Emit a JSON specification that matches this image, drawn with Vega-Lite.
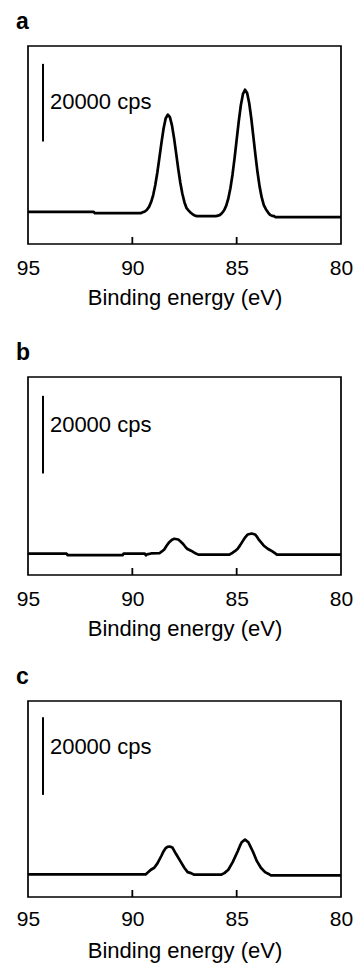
{
  "$schema": "https://vega.github.io/schema/vega-lite/v6.json",
  "padding": {"left": 15, "top": 10, "right": 4, "bottom": 2},
  "background": "white",
  "config": {
    "font": "Liberation Sans",
    "view": {"stroke": "black", "strokeWidth": 1.7},
    "title": {"anchor": "start", "fontSize": 23, "fontWeight": "bold", "dx": -12, "offset": 12, "color": "black", "frame": "group"}
  },
  "datasets": {
    "a": [
      {"E": 95, "cps": 8280}, {"E": 91.85, "cps": 8280}, {"E": 91.8, "cps": 7950}, {"E": 89.6, "cps": 7950},
      {"E": 89.5, "cps": 8160}, {"E": 89.4, "cps": 8380}, {"E": 89.3, "cps": 8820}, {"E": 89.2, "cps": 9560},
      {"E": 89.1, "cps": 10810}, {"E": 89.0, "cps": 12600}, {"E": 88.9, "cps": 15200}, {"E": 88.8, "cps": 18480},
      {"E": 88.7, "cps": 22300}, {"E": 88.6, "cps": 26250}, {"E": 88.5, "cps": 29800}, {"E": 88.4, "cps": 32400},
      {"E": 88.3, "cps": 33300}, {"E": 88.2, "cps": 32660}, {"E": 88.1, "cps": 30550}, {"E": 88.0, "cps": 27260},
      {"E": 87.9, "cps": 23340}, {"E": 87.8, "cps": 19350}, {"E": 87.7, "cps": 15790}, {"E": 87.6, "cps": 12870},
      {"E": 87.5, "cps": 10710}, {"E": 87.4, "cps": 9220}, {"E": 87.3, "cps": 8600}, {"E": 87.2, "cps": 8050},
      {"E": 87.1, "cps": 7650}, {"E": 87.0, "cps": 7300}, {"E": 86.9, "cps": 7180}, {"E": 86.0, "cps": 7180},
      {"E": 85.9, "cps": 7300}, {"E": 85.8, "cps": 7500}, {"E": 85.7, "cps": 7985}, {"E": 85.6, "cps": 8700},
      {"E": 85.5, "cps": 9890}, {"E": 85.4, "cps": 11720}, {"E": 85.3, "cps": 14350}, {"E": 85.2, "cps": 17850},
      {"E": 85.1, "cps": 22110}, {"E": 85.0, "cps": 26860}, {"E": 84.9, "cps": 31600}, {"E": 84.8, "cps": 35740},
      {"E": 84.7, "cps": 38600}, {"E": 84.6, "cps": 39740}, {"E": 84.5, "cps": 38920}, {"E": 84.4, "cps": 36330},
      {"E": 84.3, "cps": 32390}, {"E": 84.2, "cps": 27680}, {"E": 84.1, "cps": 22870}, {"E": 84.0, "cps": 18470},
      {"E": 83.9, "cps": 14780}, {"E": 83.8, "cps": 12000}, {"E": 83.7, "cps": 9990}, {"E": 83.6, "cps": 8980},
      {"E": 83.5, "cps": 8170}, {"E": 83.4, "cps": 7500}, {"E": 83.3, "cps": 7250}, {"E": 83.2, "cps": 7180},
      {"E": 83.15, "cps": 6920}, {"E": 80, "cps": 6920}
    ],
    "b": [
      {"E": 95, "cps": 5490}, {"E": 93.15, "cps": 5490}, {"E": 93.1, "cps": 5130}, {"E": 90.46, "cps": 5130},
      {"E": 90.42, "cps": 5490}, {"E": 89.4, "cps": 5490}, {"E": 89.35, "cps": 5080}, {"E": 89.3, "cps": 5300},
      {"E": 89.1, "cps": 5550}, {"E": 88.7, "cps": 5600}, {"E": 88.6, "cps": 6000}, {"E": 88.47, "cps": 6590},
      {"E": 88.35, "cps": 7600}, {"E": 88.23, "cps": 8460}, {"E": 88.1, "cps": 9100}, {"E": 87.99, "cps": 9330},
      {"E": 87.8, "cps": 9150}, {"E": 87.7, "cps": 8700}, {"E": 87.59, "cps": 8130}, {"E": 87.48, "cps": 7400},
      {"E": 87.38, "cps": 6770}, {"E": 87.19, "cps": 6260}, {"E": 87.03, "cps": 5740}, {"E": 86.84, "cps": 5250},
      {"E": 85.35, "cps": 5250}, {"E": 85.19, "cps": 5740}, {"E": 85.07, "cps": 6200}, {"E": 84.95, "cps": 6770},
      {"E": 84.83, "cps": 7700}, {"E": 84.71, "cps": 8720}, {"E": 84.59, "cps": 9700}, {"E": 84.47, "cps": 10440},
      {"E": 84.28, "cps": 10690}, {"E": 84.12, "cps": 10440}, {"E": 84.02, "cps": 9800}, {"E": 83.92, "cps": 8970},
      {"E": 83.81, "cps": 8250}, {"E": 83.71, "cps": 7610}, {"E": 83.51, "cps": 6770}, {"E": 83.27, "cps": 6000},
      {"E": 83.07, "cps": 5250}, {"E": 80, "cps": 5250}
    ],
    "c": [
      {"E": 95, "cps": 5850}, {"E": 89.35, "cps": 5850}, {"E": 89.2, "cps": 6600}, {"E": 89.11, "cps": 7020},
      {"E": 88.95, "cps": 7540}, {"E": 88.79, "cps": 8720}, {"E": 88.6, "cps": 10690}, {"E": 88.5, "cps": 11800},
      {"E": 88.39, "cps": 12670}, {"E": 88.3, "cps": 12950}, {"E": 88.23, "cps": 13000}, {"E": 88.15, "cps": 12900},
      {"E": 88.07, "cps": 12670}, {"E": 87.91, "cps": 11130}, {"E": 87.7, "cps": 9230}, {"E": 87.51, "cps": 7540},
      {"E": 87.35, "cps": 6410}, {"E": 87.19, "cps": 6150}, {"E": 87.03, "cps": 5740}, {"E": 85.75, "cps": 5740},
      {"E": 85.59, "cps": 6150}, {"E": 85.4, "cps": 7020}, {"E": 85.19, "cps": 8970}, {"E": 84.95, "cps": 11790},
      {"E": 84.85, "cps": 13100}, {"E": 84.76, "cps": 14100}, {"E": 84.6, "cps": 14790}, {"E": 84.44, "cps": 14100},
      {"E": 84.35, "cps": 13100}, {"E": 84.23, "cps": 11790}, {"E": 84.03, "cps": 9230}, {"E": 83.84, "cps": 7540},
      {"E": 83.64, "cps": 6410}, {"E": 83.49, "cps": 6000}, {"E": 83.36, "cps": 5560}, {"E": 80, "cps": 5560}
    ],
    "ticks": [{"E": 90, "t1": 0, "t2": 1800}, {"E": 85, "t1": 0, "t2": 1800}],
    "ann_a": [{"bx": 94.28, "y1": 26400, "y2": 46400, "tx": 93.95, "ty": 36700, "label": "20000 cps"}],
    "ann_b": [{"bx": 94.28, "y1": 26150, "y2": 46150, "tx": 93.95, "ty": 38600, "label": "20000 cps"}],
    "ann_c": [{"bx": 94.28, "y1": 26300, "y2": 46300, "tx": 93.95, "ty": 38600, "label": "20000 cps"}]
  },
  "spacing": 25,
  "vconcat": [
    {
      "spacing": 32,
      "vconcat": [
        {
          "title": "a",
          "width": 313, "height": 198,
          "layer": [
            {
              "data": {"name": "a"},
              "mark": {"type": "line", "color": "black", "strokeWidth": 2.7, "strokeJoin": "round"},
              "encoding": {
                "x": {"field": "E", "type": "quantitative", "scale": {"domain": [80, 95], "reverse": true, "nice": false, "zero": false},
                  "axis": {"values": [95, 90, 85, 80], "title": "Binding energy (eV)", "domain": false, "grid": false, "ticks": false, "labelFontSize": 21, "labelColor": "black", "labelPadding": 13, "labelFlush": false, "labelOverlap": false, "titleFontSize": 22, "titleFontWeight": "normal", "titleColor": "black", "titlePadding": 9}},
                "y": {"field": "cps", "type": "quantitative", "scale": {"domain": [0, 51000], "nice": false}, "axis": null}
              }
            },
            {
              "data": {"name": "ticks"},
              "mark": {"type": "rule", "color": "black", "strokeWidth": 1.8},
              "encoding": {"x": {"field": "E", "type": "quantitative"}, "y": {"field": "t1", "type": "quantitative"}, "y2": {"field": "t2"}}
            },
            {
              "data": {"name": "ann_a"},
              "mark": {"type": "rule", "color": "black", "strokeWidth": 2},
              "encoding": {"x": {"field": "bx", "type": "quantitative"}, "y": {"field": "y1", "type": "quantitative"}, "y2": {"field": "y2"}}
            },
            {
              "data": {"name": "ann_a"},
              "mark": {"type": "text", "align": "left", "baseline": "middle", "fontSize": 22, "color": "black"},
              "encoding": {"x": {"field": "tx", "type": "quantitative"}, "y": {"field": "ty", "type": "quantitative"}, "text": {"field": "label"}}
            }
          ]
        },
        {
          "title": "b",
          "width": 313, "height": 198,
          "layer": [
            {
              "data": {"name": "b"},
              "mark": {"type": "line", "color": "black", "strokeWidth": 2.7, "strokeJoin": "round"},
              "encoding": {
                "x": {"field": "E", "type": "quantitative", "scale": {"domain": [80, 95], "reverse": true, "nice": false, "zero": false},
                  "axis": {"values": [95, 90, 85, 80], "title": "Binding energy (eV)", "domain": false, "grid": false, "ticks": false, "labelFontSize": 21, "labelColor": "black", "labelPadding": 13, "labelFlush": false, "labelOverlap": false, "titleFontSize": 22, "titleFontWeight": "normal", "titleColor": "black", "titlePadding": 9}},
                "y": {"field": "cps", "type": "quantitative", "scale": {"domain": [0, 51000], "nice": false}, "axis": null}
              }
            },
            {
              "data": {"name": "ticks"},
              "mark": {"type": "rule", "color": "black", "strokeWidth": 1.8},
              "encoding": {"x": {"field": "E", "type": "quantitative"}, "y": {"field": "t1", "type": "quantitative"}, "y2": {"field": "t2"}}
            },
            {
              "data": {"name": "ann_b"},
              "mark": {"type": "rule", "color": "black", "strokeWidth": 2},
              "encoding": {"x": {"field": "bx", "type": "quantitative"}, "y": {"field": "y1", "type": "quantitative"}, "y2": {"field": "y2"}}
            },
            {
              "data": {"name": "ann_b"},
              "mark": {"type": "text", "align": "left", "baseline": "middle", "fontSize": 22, "color": "black"},
              "encoding": {"x": {"field": "tx", "type": "quantitative"}, "y": {"field": "ty", "type": "quantitative"}, "text": {"field": "label"}}
            }
          ]
        }
      ]
    },
    {
      "title": "c",
      "width": 313, "height": 196,
      "layer": [
        {
          "data": {"name": "c"},
          "mark": {"type": "line", "color": "black", "strokeWidth": 2.7, "strokeJoin": "round"},
          "encoding": {
            "x": {"field": "E", "type": "quantitative", "scale": {"domain": [80, 95], "reverse": true, "nice": false, "zero": false},
              "axis": {"values": [95, 90, 85, 80], "title": "Binding energy (eV)", "domain": false, "grid": false, "ticks": false, "labelFontSize": 21, "labelColor": "black", "labelPadding": 11, "labelFlush": false, "labelOverlap": false, "titleFontSize": 22, "titleFontWeight": "normal", "titleColor": "black", "titlePadding": 11}},
            "y": {"field": "cps", "type": "quantitative", "scale": {"domain": [0, 50485], "nice": false}, "axis": null}
          }
        },
        {
          "data": {"name": "ticks"},
          "mark": {"type": "rule", "color": "black", "strokeWidth": 1.8},
          "encoding": {"x": {"field": "E", "type": "quantitative"}, "y": {"field": "t1", "type": "quantitative"}, "y2": {"field": "t2"}}
        },
        {
          "data": {"name": "ann_c"},
          "mark": {"type": "rule", "color": "black", "strokeWidth": 2},
          "encoding": {"x": {"field": "bx", "type": "quantitative"}, "y": {"field": "y1", "type": "quantitative"}, "y2": {"field": "y2"}}
        },
        {
          "data": {"name": "ann_c"},
          "mark": {"type": "text", "align": "left", "baseline": "middle", "fontSize": 22, "color": "black"},
          "encoding": {"x": {"field": "tx", "type": "quantitative"}, "y": {"field": "ty", "type": "quantitative"}, "text": {"field": "label"}}
        }
      ]
    }
  ]
}
